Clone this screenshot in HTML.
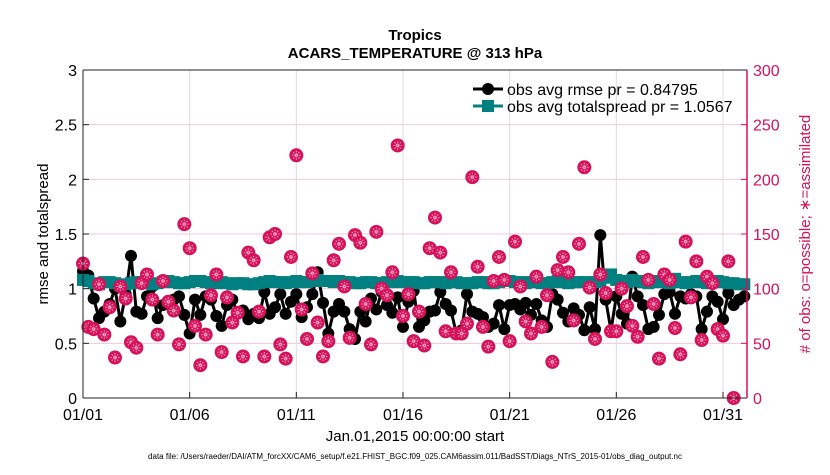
<!DOCTYPE html>
<html><head><meta charset="utf-8"><style>
body{margin:0;background:#fff;width:830px;height:470px;overflow:hidden}
svg{font-family:"Liberation Sans",sans-serif}
</style></head><body>
<svg id="chart" width="830" height="470">
<text x="415" y="40" text-anchor="middle" font-size="15" font-weight="bold">Tropics</text>
<text x="415" y="58" text-anchor="middle" font-size="15" font-weight="bold">ACARS_TEMPERATURE @ 313 hPa</text>
<g id="grid"></g>
<g id="series"></g>
<g id="axes"></g>
<text x="0" y="0" transform="translate(48,234) rotate(-90)" text-anchor="middle" font-size="15">rmse and totalspread</text>
<text x="0" y="0" transform="translate(810,234) rotate(-90)" text-anchor="middle" font-size="15" fill="#d6115a"># of obs: o=possible; ∗=assimilated</text>
<text x="415" y="441" text-anchor="middle" font-size="15">Jan.01,2015 00:00:00 start</text>
<text x="415" y="459" text-anchor="middle" font-size="8">data file: /Users/raeder/DAI/ATM_forcXX/CAM6_setup/f.e21.FHIST_BGC.f09_025.CAM6assim.011/BadSST/Diags_NTrS_2015-01/obs_diag_output.nc</text>
<g>
<line x1="473" y1="89" x2="503" y2="89" stroke="#000" stroke-width="3"/>
<circle cx="488" cy="89" r="6" fill="#000"/>
<text x="507" y="95" font-size="16">obs avg rmse pr = 0.84795</text>
<line x1="473" y1="106" x2="503" y2="106" stroke="#008080" stroke-width="3"/>
<rect x="482" y="100" width="12" height="12" fill="#008080"/>
<text x="507" y="112" font-size="16">obs avg totalspread pr = 1.0567</text>
</g>
</svg>
<script>
const xTickLabels=["01/01","01/06","01/11","01/16","01/21","01/26","01/31"];
const xTickDays=[0,5,10,15,20,25,30];
const yTickLabels=["0","0.5","1","1.5","2","2.5","3"];
const yTickValues=[0,0.5,1,1.5,2,2.5,3];
const y2TickValues=[0,50,100,150,200,250,300];
const rmse=[1.16,1.12,0.91,0.73,0.79,0.86,1.0,0.70,0.95,1.30,0.79,0.77,0.93,1.02,0.73,0.85,0.88,0.90,0.93,0.76,0.59,0.90,0.76,0.93,0.90,0.75,0.66,0.85,0.90,0.77,0.80,0.72,
0.77,0.73,0.97,0.77,0.83,0.95,0.77,0.88,0.95,0.74,0.83,0.95,1.15,0.87,0.59,0.79,0.86,0.79,0.63,0.54,0.79,0.70,0.91,0.81,0.97,0.85,0.78,0.92,0.65,0.88,0.98,
0.65,0.71,0.79,0.80,0.97,0.86,0.80,0.59,0.62,0.95,0.79,0.77,0.74,0.65,0.68,0.85,0.63,0.85,0.86,0.81,0.87,0.76,0.86,0.71,0.65,0.95,0.90,0.78,0.70,0.82,
0.76,0.62,0.83,0.63,1.49,0.90,0.62,0.93,0.77,0.68,1.11,0.93,0.85,0.63,0.65,0.76,0.95,0.97,0.77,0.93,0.91,0.95,0.93,0.63,0.79,0.93,0.88,0.72,0.96,0.85,0.90,0.93];
const spread=[1.08,1.07,1.05,1.04,1.06,1.06,1.05,1.03,1.04,1.05,1.06,1.06,1.05,1.04,1.05,1.06,1.07,1.06,1.05,1.05,1.06,1.07,1.07,1.06,1.05,1.05,1.06,1.05,1.04,1.05,1.05,1.04,
1.04,1.05,1.06,1.07,1.06,1.06,1.05,1.06,1.07,1.06,1.06,1.07,1.08,1.07,1.07,1.06,1.07,1.06,1.06,1.05,1.05,1.06,1.06,1.05,1.05,1.06,1.06,1.07,1.06,1.06,1.06,
1.05,1.05,1.06,1.06,1.06,1.05,1.06,1.06,1.05,1.05,1.05,1.06,1.06,1.05,1.05,1.06,1.07,1.07,1.06,1.06,1.05,1.06,1.06,1.05,1.05,1.06,1.07,1.06,1.05,1.06,
1.06,1.06,1.05,1.06,1.07,1.10,1.13,1.08,1.07,1.06,1.08,1.07,1.06,1.05,1.06,1.07,1.06,1.05,1.09,1.06,1.05,1.06,1.07,1.06,1.05,1.06,1.07,1.06,1.05,1.05,1.04,1.04];
const obs=[123,65,63,104,58,83,37,102,91,51,46,105,113,90,58,107,88,80,49,159,137,66,30,58,94,113,42,92,69,78,38,133,
126,79,38,147,150,49,36,129,222,81,54,114,69,38,52,126,141,102,55,149,142,86,49,152,100,94,115,231,75,
95,52,79,48,137,165,133,61,115,59,59,68,202,120,65,47,107,129,108,52,143,102,70,59,111,65,94,33,117,129,
115,71,141,211,101,54,113,96,61,61,100,84,66,56,129,108,86,36,113,108,64,40,143,92,125,53,111,105,63,57,125,0];

const X0=83,X1=747,Y0=398,Y1=70,PX_DAY=21.333;
const xs=d=>X0+d*PX_DAY;
const ys=v=>Y0-(v/3)*(Y0-Y1);
const ys2=v=>Y0-(v/300)*(Y0-Y1);
const NS="http://www.w3.org/2000/svg";
function mk(t,a,p){const e=document.createElementNS(NS,t);for(const k in a)e.setAttribute(k,a[k]);p.appendChild(e);return e;}
const grid=document.getElementById('grid'),ser=document.getElementById('series'),ax=document.getElementById('axes');

yTickValues.forEach((v,i)=>{
  if(i>0&&i<yTickValues.length-1){const g=mk('line',{x1:X0,x2:X1,y1:ys(v),y2:ys(v),stroke:'#f3c6da','stroke-width':1},grid);
  
  }
  const t=mk('text',{x:X0-6,y:ys(v)+6,'text-anchor':'end','font-size':16},ax);t.textContent=yTickLabels[i];
  
  
  mk('line',{x1:X0,x2:X0+6,y1:ys(v),y2:ys(v),stroke:'#222'},ax);
  mk('line',{x1:X1,x2:X1-6,y1:ys(v),y2:ys(v),stroke:'#d6115a'},ax);
});
y2TickValues.forEach(v=>{
  const t=mk('text',{x:X1+6,y:ys2(v)+6,'font-size':16,fill:'#d6115a'},ax);t.textContent=v;
  
  
});
xTickDays.forEach((d,i)=>{
  if(d>0){const g=mk('line',{x1:xs(d),x2:xs(d),y1:Y1,y2:Y0,stroke:'#dcdcdc'},grid);
  
  }
  mk('line',{x1:xs(d),x2:xs(d),y1:Y0,y2:Y0-6,stroke:'#222'},ax);
  const t=mk('text',{x:xs(d),y:Y0+22,'text-anchor':'middle','font-size':16},ax);t.textContent=xTickLabels[i];
  
  
});
mk('line',{x1:X0,x2:X1,y1:Y1,y2:Y1,stroke:'#222'},ax);
mk('line',{x1:X0,x2:X1,y1:Y0,y2:Y0,stroke:'#222'},ax);
mk('line',{x1:X0,x2:X0,y1:Y1,y2:Y0,stroke:'#222'},ax);
mk('line',{x1:X1,x2:X1,y1:Y1,y2:Y0,stroke:'#d6115a','stroke-width':1.5},ax);

const step=0.25;
let p=rmse.map((v,i)=>xs(i*step)+','+ys(v)).join(' ');
const rl=mk('polyline',{points:p,fill:'none',stroke:'#000','stroke-width':3},ser);


rmse.forEach((v,i)=>{const c=mk('circle',{cx:xs(i*step),cy:ys(v),r:6,fill:'#000'},ser);

});
p=spread.map((v,i)=>xs(i*step)+','+ys(v)).join(' ');
const sl=mk('polyline',{points:p,fill:'none',stroke:'#008080','stroke-width':3},ser);


spread.forEach((v,i)=>{const r=mk('rect',{x:xs(i*step)-6,y:ys(v)-6,width:12,height:12,fill:'#008080'},ser);

});
obs.forEach((v,i)=>{const x=xs(i*step),y=ys2(v);
  const c=mk('circle',{cx:x,cy:y,r:7,fill:'#d6115a'},ser);
  
  
  for(let k=0;k<4;k++){const a=k*Math.PI/4;mk('line',{x1:x-4.5*Math.cos(a),y1:y-4.5*Math.sin(a),x2:x+4.5*Math.cos(a),y2:y+4.5*Math.sin(a),stroke:'#f4a6c6','stroke-width':1,'stroke-dasharray':'1.5 1'},ser);}
});
</script>
</body></html>
